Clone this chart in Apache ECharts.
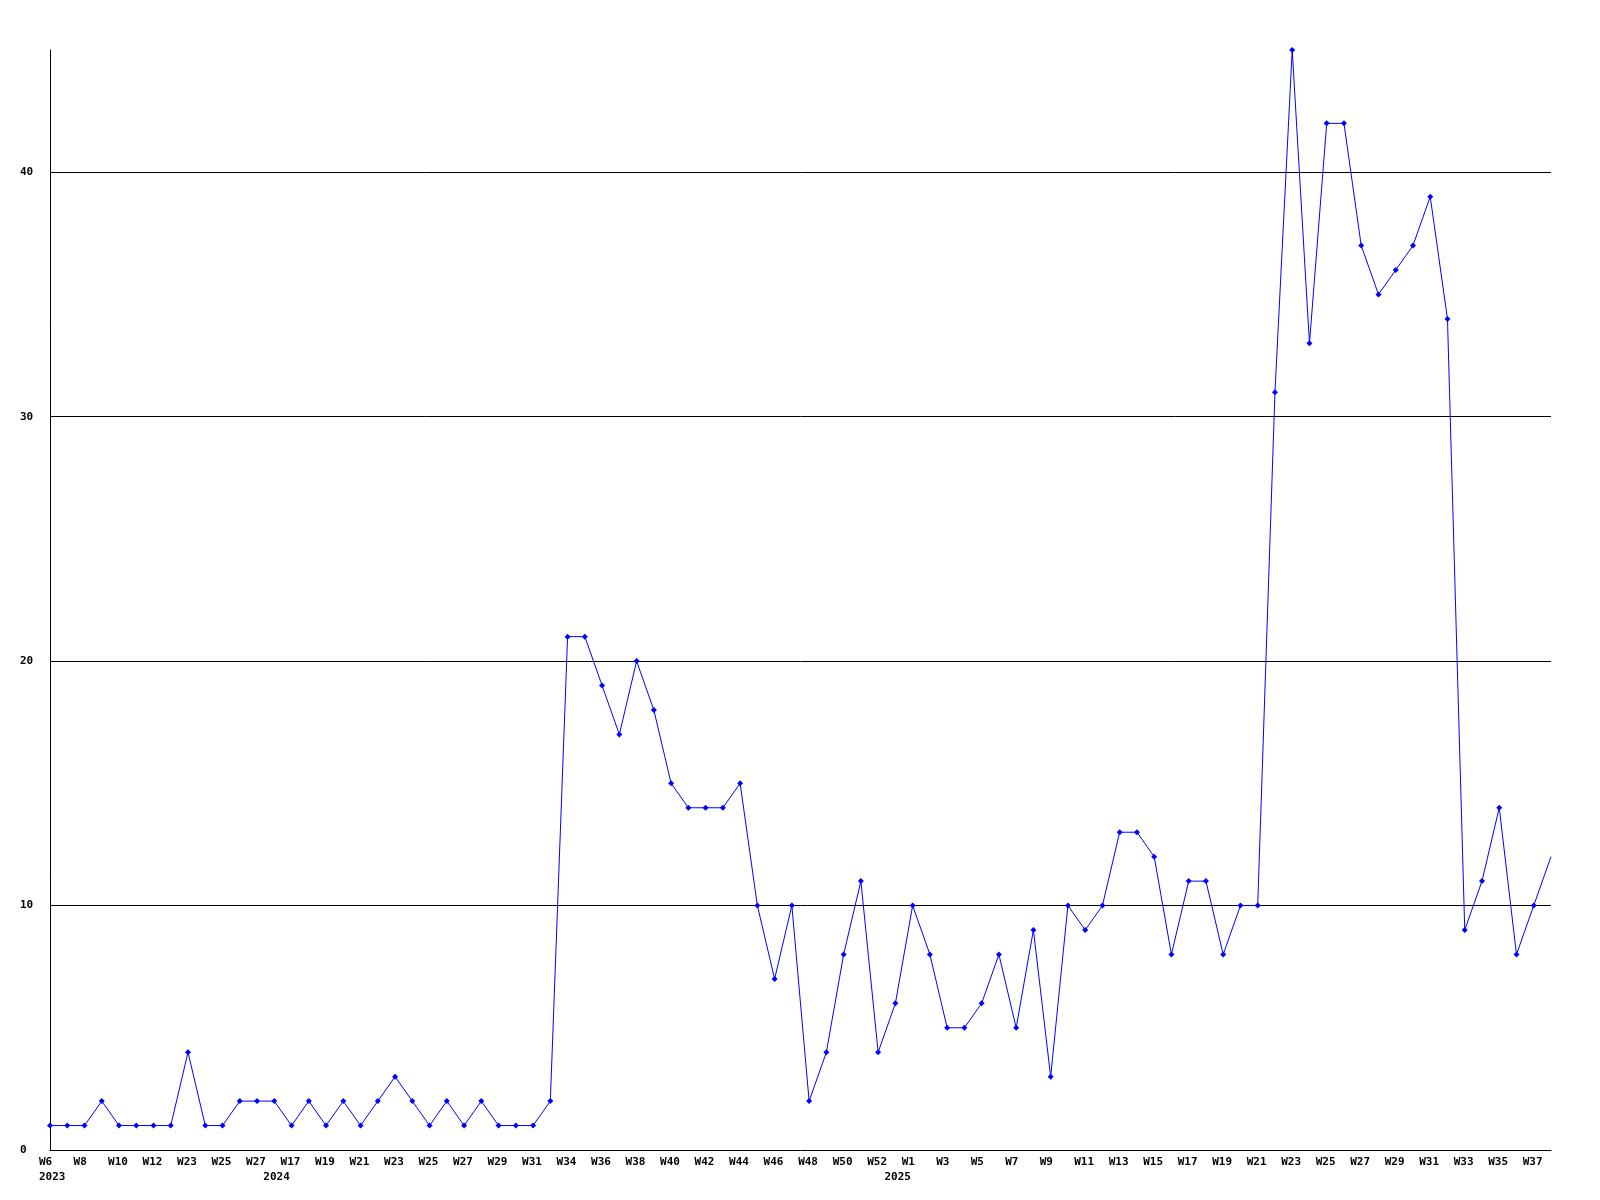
<!DOCTYPE html>
<html>
<head>
<meta charset="utf-8">
<style>
html,body{margin:0;padding:0;background:#fff;}
#chart{width:1600px;height:1200px;}
</style>
<script src="https://cdn.jsdelivr.net/npm/echarts@6/dist/echarts.min.js"></script>
</head>
<body>
<div id="chart"></div>
<script>
// Week tick labels (shown at every second point, starting at point 0)
const weekLabels = ['W6','W8','W10','W12','W23','W25','W27','W17','W19','W21','W23','W25','W27','W29','W31',
  'W34','W36','W38','W40','W42','W44','W46','W48','W50','W52','W1','W3','W5','W7','W9','W11','W13','W15',
  'W17','W19','W21','W23','W25','W27','W29','W31','W33','W35','W37'];
// Year labels: [point index, year]
const yearLabels = [[0,'2023'],[13,'2024'],[49,'2025']];
// Weekly values
const values = [1,1,1,2,1,1,1,1,4,1,1,2,2,2,1,2,1,2,1,2,3,2,1,2,1,2,1,1,1,2,
  21,21,19,17,20,18,15,14,14,14,15,10,7,10,2,4,8,11,4,6,10,8,5,5,6,8,5,9,3,10,
  9,10,13,13,12,8,11,11,8,10,10,31,45,33,42,42,37,35,36,37,39,34,9,11,14,8,10,12];
const yTicks = {min:0, max:45, interval:10};

const n = values.length;
const cats = values.map((v,i)=>String(i));
const yearMap = {};
yearLabels.forEach(([i,y])=>{yearMap[i]=y;});
function labelText(i){
  const w = (i % 2 === 0 && weekLabels[i/2] !== undefined) ? weekLabels[i/2] : ' ';
  return yearMap[i] !== undefined ? w + '\n' + yearMap[i] : w;
}
const seriesData = values.map((v,i)=> i === n-1 ? {value:v, symbol:'none'} : v);

const font = {fontFamily:'DejaVu Sans Mono', fontWeight:'bold', fontSize:11, color:'#000'};
const chart = echarts.init(document.getElementById('chart'), null, {renderer:'canvas'});
chart.setOption({
  animation:false,
  backgroundColor:'#fff',
  grid:[
    {left:50, right:49, top:50, bottom:50, containLabel:false},
    {left:39, right:60, top:50, bottom:50, containLabel:false}
  ],
  xAxis:[
    {type:'category', gridIndex:0, data:cats, boundaryGap:false,
     axisLine:{show:true, lineStyle:{color:'#000', width:1}}, axisTick:{show:false},
     axisLabel:{show:false}, splitLine:{show:false}},
    {type:'category', gridIndex:1, data:cats, boundaryGap:false,
     axisLine:{show:false}, axisTick:{show:false}, splitLine:{show:false},
     axisLabel:Object.assign({show:true, align:'left', margin:5, lineHeight:15,
       interval:(i)=> i % 2 === 0 || yearMap[i] !== undefined,
       formatter:(v,i)=>labelText(Number(v))}, font)}
  ],
  yAxis:[
    {type:'value', gridIndex:0, min:yTicks.min, max:yTicks.max, interval:yTicks.interval,
     axisLine:{show:true, lineStyle:{color:'#000', width:1}}, axisTick:{show:false},
     axisLabel:Object.assign({show:true, align:'left', margin:30, showMaxLabel:false}, font),
     splitLine:{show:true, showMinLine:false, showMaxLine:false, lineStyle:{color:'#000', width:1}}},
    {type:'value', gridIndex:1, show:false, min:0, max:45}
  ],
  series:[{
    type:'line', xAxisIndex:0, yAxisIndex:0, data:seriesData,
    symbol:'diamond', symbolSize:6, showSymbol:true,
    lineStyle:{color:'#0000ff', width:1},
    itemStyle:{color:'#0000ff'},
    z:3
  }]
});
</script>
</body>
</html>
